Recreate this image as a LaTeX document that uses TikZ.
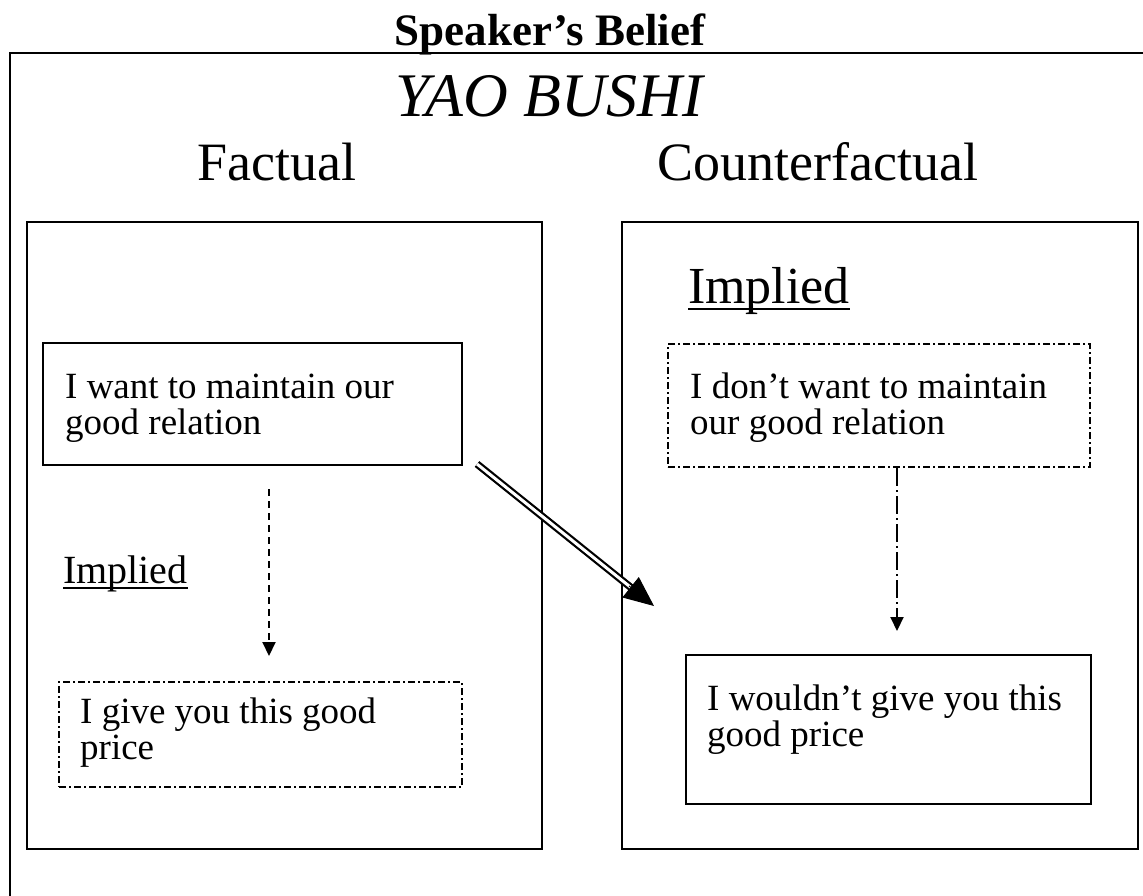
\documentclass[tikz,border=0pt]{standalone}
\usepackage{fontspec}
\setmainfont{Liberation Serif}
\usetikzlibrary{arrows.meta,calc}
\begin{document}
\begin{tikzpicture}[x=1pt,y=-1pt,
  frame/.style={draw, line width=2.5pt},
  bigbox/.style={draw, line width=2.2pt, inner sep=0pt, rectangle},
  solidbox/.style={draw, line width=2pt, inner sep=0pt, rectangle},
  dotbox/.style={draw, line width=2pt, inner sep=0pt, rectangle, dash pattern=on 7pt off 3pt on 2pt off 3pt},
  body/.style={inner sep=0pt, anchor=base west, align=left, font=\fontsize{37}{36}\selectfont},
  heading/.style={inner sep=0pt, anchor=base, font=\fontsize{54}{60}\selectfont},
  implied/.style={inner sep=0pt, anchor=base west},
  dasharrow/.style={line width=2pt, dash pattern=on 7pt off 5pt, -{Triangle[length=14pt,width=13pt]}},
  dotarrow/.style={line width=2pt, dash pattern=on 18pt off 4pt on 2pt off 4pt, -{Triangle[length=14pt,width=13pt]}},
  dblshaft/.style={double, double distance=3pt, line width=2.2pt},
  dbltip/.style={line width=1pt, -{Triangle[length=30pt,width=26pt]}}
]
\useasboundingbox (0,0) rectangle (1143,895);
\fill[white] (0,0) rectangle (1143,895);

% title and outer frame
\node[inner sep=0pt, anchor=base, font=\bfseries\fontsize{45}{50}\selectfont] (title) at (550,45) {Speaker’s Belief};
\draw[frame] (1170,53) -- (10,53) -- (10,920);

\node[inner sep=0pt, anchor=base, font=\itshape\fontsize{62}{70}\selectfont] (yao) at (549,116) {YAO BUSHI};
\node[heading] (fact) at (277,180) {Factual};
\node[heading] (cfact) at (818,180) {Counterfactual};

% big panels
\node[bigbox, minimum width=515, minimum height=627] (L) at (284.5,535.5) {};
\node[bigbox, minimum width=516, minimum height=627] (R) at (880,535.5) {};

% inner boxes
\node[solidbox, minimum width=419, minimum height=122] (A) at (252.5,404) {};
\node[dotbox, minimum width=403, minimum height=105] (B) at (260.5,734.5) {};
\node[dotbox, minimum width=422, minimum height=123] (C) at (879,405.5) {};
\node[solidbox, minimum width=405, minimum height=149] (D) at (888.5,729.5) {};

% texts (anchor = baseline of the last line)
\node[body] (tA) at (65,434) {I want to maintain our\\good relation};
\node[body] (tB) at (80,759) {I give you this good\\price};
\node[body] (tC) at (690,434) {I don’t want to maintain\\our good relation};
\node[body] (tD) at (707,746) {I wouldn’t give you this\\good price};

% Implied labels
\node[implied, font=\fontsize{40}{46}\selectfont] (impL) at (63,583) {Implied};
\draw[line width=2pt] ([yshift=-5pt]impL.base west) -- ([yshift=-5pt]impL.base east);
\node[implied, font=\fontsize{52}{60}\selectfont] (impR) at (688,303) {Implied};
\draw[line width=2.5pt] ([yshift=-6pt]impR.base west) -- ([yshift=-6pt]impR.base east);

% connectors
\coordinate (ax) at (269,0);
\draw[dasharrow, shorten <=23pt, shorten >=25pt] (A.south -| ax) -- (B.north -| ax);
\coordinate (cx) at (897,0);
\draw[dotarrow, shorten >=23pt] (C.south -| cx) -- (D.north -| cx);

\coordinate (s) at ($(A.south east)+(14,-2)$);
\coordinate (t) at ($(D.north west)+(-31,-48)$);
\draw[dblshaft, shorten >=22pt] (s) -- (t);
\draw[dbltip] ($(t)!32pt!(s)$) -- (t);
\end{tikzpicture}
\end{document}
